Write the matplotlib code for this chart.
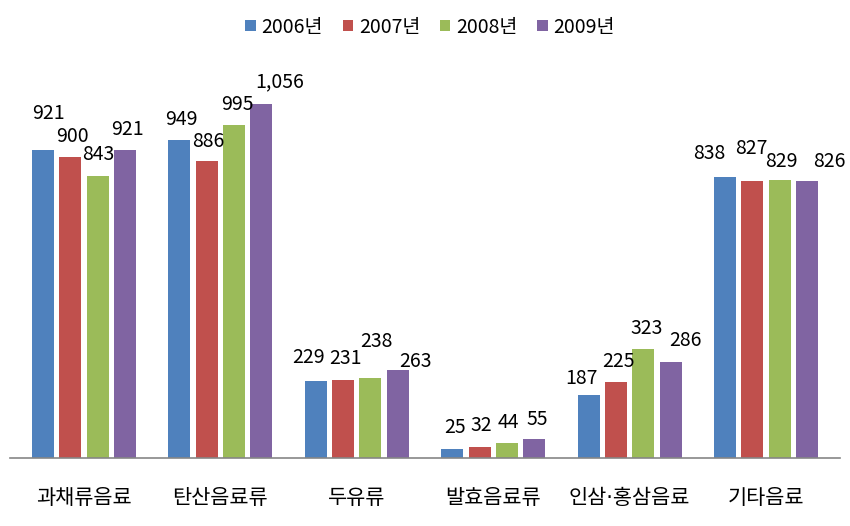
import matplotlib
matplotlib.use('Agg')
import matplotlib.pyplot as plt
from matplotlib.patches import Patch
import numpy as np

plt.rcParams['font.family'] = ['Noto Sans CJK KR', 'DejaVu Sans']

categories = ['과채류음료', '탄산음료류', '두유류', '발효음료류', '인삼·홍삼음료', '기타음료']
years = ['2006년', '2007년', '2008년', '2009년']
v2006 = [921, 949, 229, 25, 187, 838]
v2007 = [900, 886, 231, 32, 225, 827]
v2008 = [843, 995, 238, 44, 323, 829]
v2009 = [921, 1056, 263, 55, 286, 826]
series = [v2006, v2007, v2008, v2009]
colors = ['#4F81BD', '#C0504D', '#9BBB59', '#8064A2']

# label nudges in pixels (dx, dy above bar top), Excel staggered them to avoid overlap
label_dx = [[5, 2, 1, 3], [2, 2, 3, 18], [-7, 2, 6, 18],
            [3, 2, 2, 3], [-7, 2, 3, 15], [-16, -1, 2, 22]]
label_dy = [[36, 20, 21, 20], [21, 20, 20, 23], [23, 22, 36, 8],
            [22, 21, 20, 20], [16, 21, 21, 21], [24, 32, 19, 20]]

fig = plt.figure(figsize=(8.5, 5.26), dpi=100)
ax = fig.add_axes([10 / 850, 68.5 / 526, 830 / 850, 397.5 / 526])

x = np.arange(len(categories))
step = 0.2
width = 0.161
for i, vals in enumerate(series):
    pos = x + (i - 1.5) * step
    ax.bar(pos, vals, width=width, color=colors[i], zorder=2)
    for g, (p, v) in enumerate(zip(pos, vals)):
        ax.annotate('{:,}'.format(v), (p, v), xytext=(label_dx[g][i], label_dy[g][i]),
                    textcoords='offset pixels', ha='center', va='center',
                    fontsize=14, color='black')

ax.set_xlim(-0.542, 5.542)
ax.set_ylim(0, 1188.7)
ax.set_yticks([])
ax.set_xticks(x)
# DejaVu first so the middle dot stays narrow, Hangul falls back to Noto
ax.set_xticklabels(categories, fontsize=15, family=['DejaVu Sans', 'Noto Sans CJK KR'])
ax.tick_params(axis='x', length=0, pad=22)
for s in ['top', 'right', 'left']:
    ax.spines[s].set_visible(False)
ax.spines['bottom'].set_color('#868686')
ax.spines['bottom'].set_linewidth(1.2)

handles = [Patch(facecolor=c, edgecolor='none') for c in colors]
fig.legend(handles, years, loc='center', bbox_to_anchor=(430 / 850, 1 - 27 / 526),
           ncol=4, frameon=False, fontsize=14, handlelength=0.55, handleheight=0.55,
           handletextpad=0.3, columnspacing=1.0)

fig.savefig('out.png', dpi=100)
